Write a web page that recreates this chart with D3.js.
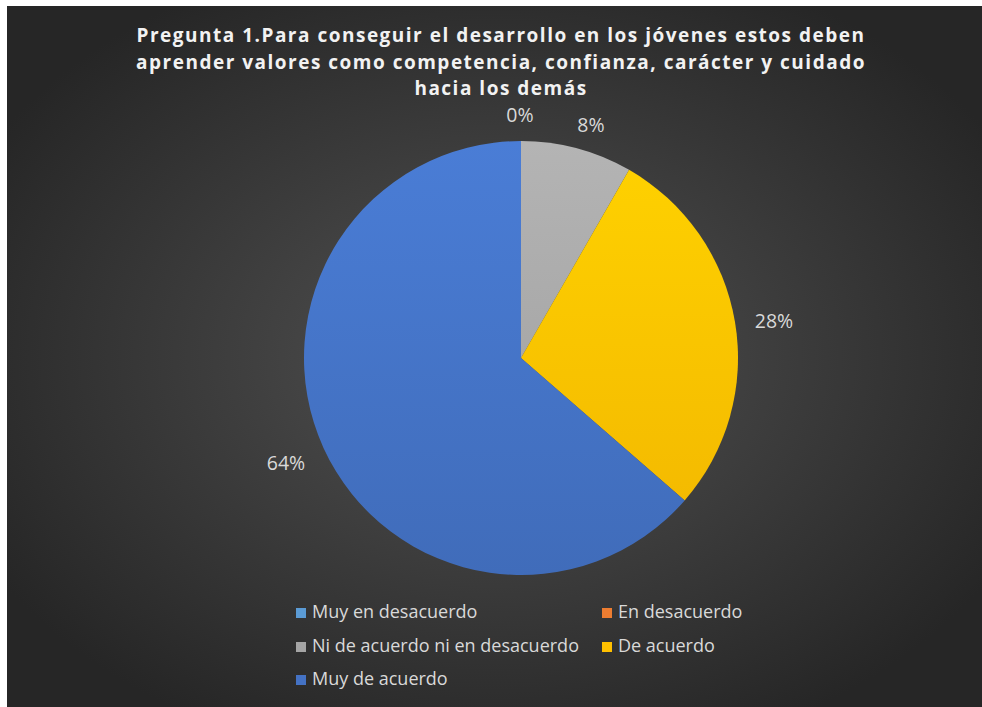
<!DOCTYPE html>
<html><head><meta charset="utf-8">
<script src="https://cdn.jsdelivr.net/npm/d3@7"></script>
<style>html,body{margin:0;padding:0;background:#fff;}</style>
</head><body>
<svg id="chart" width="982" height="707"></svg>
<script>
const categories = ["Muy en desacuerdo","En desacuerdo","Ni de acuerdo ni en desacuerdo","De acuerdo","Muy de acuerdo"];
const values = [0, 0, 8.3, 28.1, 63.6];
const labels = ["0%","","8%","28%","64%"];
const colors = ["#5b9bd5","#ed7d31","#a5a5a5","#ffc000","#4472c4"];
const titleLines = ["Pregunta 1.Para conseguir el desarrollo en los jóvenes estos deben","aprender valores como competencia, confianza, carácter y cuidado","hacia los demás"];

const svg = d3.select("#chart");
const defs = svg.append("defs");
const bg = defs.append("radialGradient").attr("id","bg").attr("cx","0.5").attr("cy","0.5").attr("r","0.6");
bg.append("stop").attr("offset","0").attr("stop-color","#525252");
bg.append("stop").attr("offset","1").attr("stop-color","#262626");
svg.append("rect").attr("x",7).attr("y",6).attr("width",975).attr("height",701).attr("fill","url(#bg)");

colors.forEach((c,i)=>{
  const g = defs.append("linearGradient").attr("id","g"+i)
    .attr("gradientUnits","userSpaceOnUse").attr("y1",-217).attr("y2",217).attr("x1",0).attr("x2",0);
  g.append("stop").attr("offset",0).attr("stop-color",d3.color(c).brighter(0.25));
  g.append("stop").attr("offset",1).attr("stop-color",d3.color(c).darker(0.15));
});

// title
const t = svg.append("text").attr("text-anchor","middle")
  .style("font-family","'Open Sans', sans-serif").style("font-weight","bold").style("font-size","19px")
  .style("letter-spacing","1.5px").attr("fill","#f2f2f2");
titleLines.forEach((l,i)=>t.append("tspan").attr("x",501).attr("y",42+i*26.5).text(l));

const cx = 521, cy = 358, R = 217;
const pie = d3.pie().sort(null).value(d=>d)(values);
const arc = d3.arc().innerRadius(0).outerRadius(R);
const g = svg.append("g").attr("transform",`translate(${cx},${cy})`);
g.selectAll("path").data(pie).join("path")
  .attr("d",arc).attr("fill",(d,i)=>`url(#g${i})`);

const labelPos = [[-1,-241],[0,0],[70,-231],[253,-35],[-235,107]];
g.selectAll("text.lbl").data(pie).join("text").attr("class","lbl")
  .attr("x",(d,i)=>labelPos[i][0]).attr("y",(d,i)=>labelPos[i][1])
  .attr("text-anchor","middle").attr("dominant-baseline","middle")
  .style("font-family","'Open Sans', sans-serif").style("font-size","19.5px")
  .attr("fill","#d9d9d9").text((d,i)=>labels[i]);

// legend
const legPos = [[296,613],[602,613],[296,647],[602,647],[296,680]];
const leg = svg.append("g");
categories.forEach((c,i)=>{
  leg.append("rect").attr("x",legPos[i][0]).attr("y",legPos[i][1]-5).attr("width",10).attr("height",10).attr("fill",colors[i]);
  leg.append("text").attr("x",legPos[i][0]+16).attr("y",legPos[i][1]).attr("dominant-baseline","middle")
    .style("font-family","'Open Sans', sans-serif").style("font-size","18px").attr("fill","#d9d9d9").text(c);
});
</script>
</body></html>
